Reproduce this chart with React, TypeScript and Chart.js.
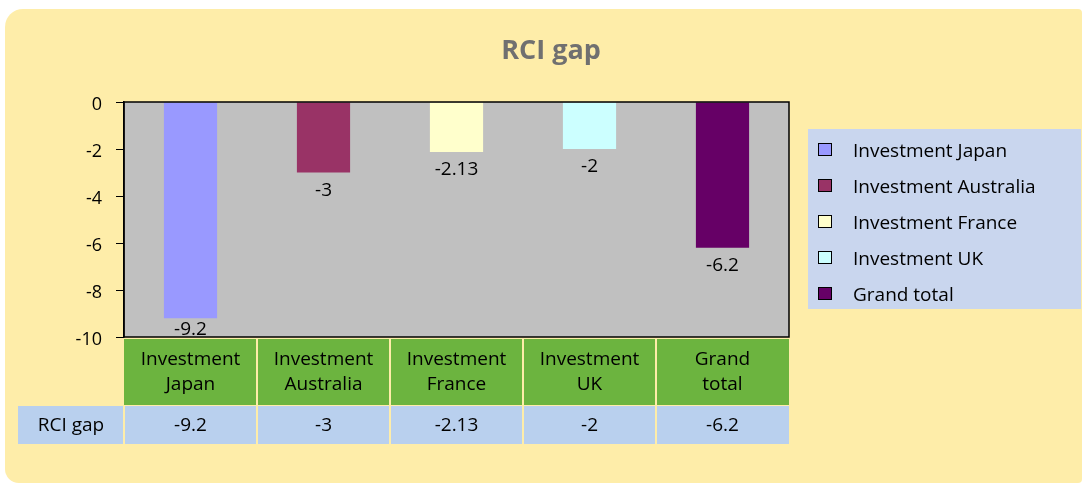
import React, { useEffect, useRef } from "react";
import { Chart, registerables } from "chart.js";
Chart.register(...registerables);

const chartTitle = "RCI gap";
const seriesName = "RCI gap";
const categoryLines = [
  ["Investment", "Japan"],
  ["Investment", "Australia"],
  ["Investment", "France"],
  ["Investment", "UK"],
  ["Grand", "total"],
];
const legendLabels = ["Investment Japan", "Investment Australia", "Investment France", "Investment UK", "Grand total"];
const values = [-9.2, -3, -2.13, -2, -6.2];
const valueLabels = ["-9.2", "-3", "-2.13", "-2", "-6.2"];
const barColors = ["#9999FF", "#993366", "#FFFFCC", "#CCFFFF", "#660066"];
const yMin = -10;
const yMax = 0;
const yStep = 2;

const FONT = '"Open Sans", "Noto Sans", sans-serif';
const W = 1083;
const H = 484;

const decorPlugin = {
  id: "decor",
  beforeDraw(chart: any) {
    const ctx = chart.ctx;
    const ca = chart.chartArea;
    ctx.save();
    ctx.fillStyle = "#FFFFFF";
    ctx.fillRect(0, 0, W, H);
    // panel
    ctx.fillStyle = "#FEEDA9";
    ctx.beginPath();
    (ctx as any).roundRect(5, 9, 1077, 474, [18, 4, 4, 14]);
    ctx.fill();
    // title
    ctx.fillStyle = "#707070";
    ctx.font = `bold 27px ${FONT}`;
    ctx.textAlign = "center";
    ctx.textBaseline = "middle";
    ctx.fillText(chartTitle, 551, 51);
    // plot bg
    ctx.fillStyle = "#C0C0C0";
    ctx.fillRect(ca.left, ca.top, ca.right - ca.left, ca.bottom - ca.top);
    ctx.restore();
  },
  afterDatasetsDraw(chart: any) {
    const ctx = chart.ctx;
    const ca = chart.chartArea;
    const meta = chart.getDatasetMeta(0);
    ctx.save();
    // data labels
    ctx.fillStyle = "#000";
    ctx.font = `19px ${FONT}`;
    ctx.textAlign = "center";
    ctx.textBaseline = "middle";
    meta.data.forEach((bar: any, i: number) => {
      ctx.fillText(valueLabels[i], bar.x, Math.min(bar.y + 18, ca.bottom - 7));
    });
    // border
    ctx.strokeStyle = "#000";
    ctx.lineWidth = 1.5;
    ctx.strokeRect(ca.left, ca.top, ca.right - ca.left, ca.bottom - ca.top);

    // data table
    const n = values.length;
    const cw = (ca.right - ca.left) / n;
    const hTop = ca.bottom + 2;
    const hBot = 405;
    const vTop = 406;
    const vBot = 444;
    for (let i = 0; i < n; i++) {
      const x0 = ca.left + i * cw;
      ctx.fillStyle = "#6CB43F";
      ctx.fillRect(x0 + (i === 0 ? 0 : 1), hTop, cw - (i === 0 ? 0 : 1) - (i === n - 1 ? 0 : 1), hBot - hTop);
      ctx.fillStyle = "#B9D0EE";
      ctx.fillRect(x0 + 1, vTop, cw - 1 - (i === n - 1 ? 0 : 1), vBot - vTop);
      ctx.fillStyle = "#000";
      ctx.font = `19px ${FONT}`;
      ctx.textAlign = "center";
      ctx.textBaseline = "middle";
      const cx = x0 + cw / 2;
      ctx.fillText(categoryLines[i][0], cx, 360);
      ctx.fillText(categoryLines[i][1], cx, 385);
      ctx.fillText(valueLabels[i], cx, 426);
    }
    ctx.fillStyle = "#B9D0EE";
    ctx.fillRect(18, vTop, ca.left - 1 - 18, vBot - vTop);
    ctx.fillStyle = "#000";
    ctx.fillText(seriesName, (18 + ca.left) / 2, 426);

    // legend
    ctx.fillStyle = "#C9D6EE";
    ctx.fillRect(808, 129, 273, 180);
    ctx.textAlign = "left";
    legendLabels.forEach((lab, i) => {
      const y = 150 + i * 36;
      ctx.fillStyle = barColors[i];
      ctx.fillRect(818, y - 7, 14, 13);
      ctx.strokeStyle = "#000";
      ctx.lineWidth = 1;
      ctx.strokeRect(818.5, y - 6.5, 13, 12);
      ctx.fillStyle = "#000";
      ctx.fillText(lab, 853, y + 2);
    });
    ctx.restore();
  },
};

export default function App() {
  const ref = useRef<HTMLCanvasElement | null>(null);
  useEffect(() => {
    if (!ref.current) return;
    const chart = new Chart(ref.current, {
      type: "bar",
      data: {
        labels: legendLabels,
        datasets: [
          {
            label: seriesName,
            data: values,
            backgroundColor: barColors,
            borderWidth: 0,
            barPercentage: 0.4,
            categoryPercentage: 1,
          },
        ],
      },
      options: {
        animation: false,
        responsive: false,
        devicePixelRatio: 1,
        layout: { padding: { left: 0, top: 102, right: 294, bottom: 147 } },
        plugins: { legend: { display: false }, title: { display: false }, tooltip: { enabled: false } },
        scales: {
          x: { display: false },
          y: {
            min: yMin,
            max: yMax,
            ticks: {
              stepSize: yStep,
              color: "#000",
              font: { family: FONT, size: 18 },
              padding: 14,
              labelOffset: 3,
            },
            grid: { drawOnChartArea: false, drawTicks: true, tickLength: 8, color: "#000", lineWidth: 1 },
            border: { display: true, color: "#000", width: 1.5 },
            afterFit: (s: any) => {
              s.width = 124;
            },
          },
        },
      },
      plugins: [decorPlugin],
    });
    return () => chart.destroy();
  }, []);
  return (
    <div style={{ position: "fixed", left: 0, top: 0, width: W, height: H }}>
      <canvas ref={ref} width={W} height={H} style={{ width: W, height: H, display: "block" }} />
    </div>
  );
}
